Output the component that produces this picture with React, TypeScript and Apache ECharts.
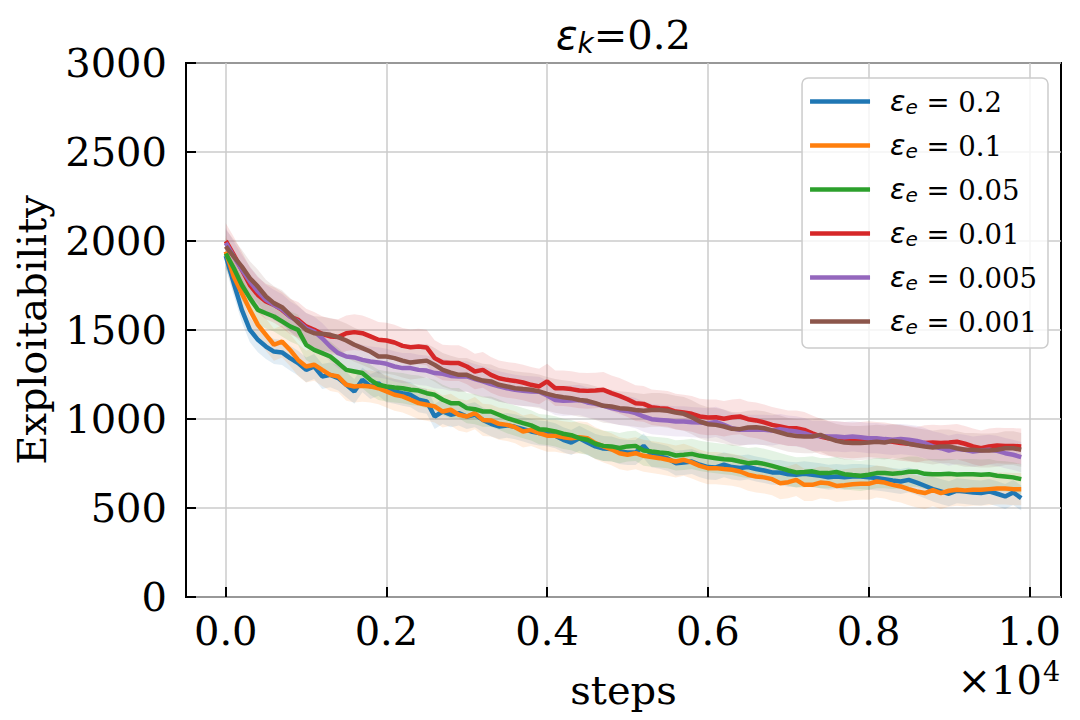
import React, { useEffect, useRef } from "react";
import * as echarts from "echarts";

const STEPS: number[] = Array.from({ length: 100 }, (_, i) => i * 100);

const EPS_LABELS = ["0.2", "0.1", "0.05", "0.01", "0.005", "0.001"];
const COLORS = ["#1f77b4", "#ff7f0e", "#2ca02c", "#d62728", "#9467bd", "#8c564b"];

const BLUE = [
  1916, 1762, 1613, 1501, 1445, 1407, 1379, 1374, 1342, 1314, 1276, 1295, 1239, 1248, 1230, 1192, 1155, 1220, 1183, 1201,
  1164, 1155, 1145, 1136, 1108, 1099, 1014, 1042, 1024, 1033, 1014, 1024, 995, 973, 958, 964, 956, 943, 930, 921,
  917, 906, 883, 868, 892, 868, 846, 834, 832, 817, 812, 812, 849, 799, 790, 778, 752, 756, 761, 743,
  730, 728, 743, 730, 725, 730, 719, 711, 700, 699, 690, 687, 692, 687, 681, 673, 677, 673, 677, 677,
  673, 668, 662, 655, 649, 658, 643, 625, 606, 593, 580, 597, 593, 587, 584, 593, 580, 565, 587, 556,
];
const ORANGE = [
  1940, 1800, 1707, 1613, 1529, 1473, 1417, 1435, 1388, 1332, 1295, 1305, 1276, 1248, 1239, 1192, 1183, 1187, 1183, 1173,
  1155, 1136, 1127, 1108, 1089, 1080, 1071, 1042, 1052, 1024, 1014, 1033, 995, 992, 973, 967, 954, 930, 939, 921,
  906, 906, 898, 892, 898, 892, 864, 846, 830, 808, 799, 808, 793, 786, 780, 771, 761, 771, 756, 737,
  724, 724, 719, 715, 705, 687, 677, 672, 662, 639, 645, 658, 630, 630, 643, 639, 624, 628, 634, 636,
  636, 649, 643, 630, 621, 606, 593, 584, 600, 584, 597, 602, 599, 602, 602, 606, 610, 610, 606, 606,
];
const GREEN = [
  1930, 1847, 1753, 1679, 1613, 1594, 1576, 1548, 1520, 1501, 1417, 1388, 1370, 1351, 1314, 1276, 1267, 1258, 1220, 1192,
  1183, 1177, 1173, 1164, 1160, 1145, 1136, 1108, 1089, 1089, 1061, 1055, 1042, 1042, 1024, 1005, 991, 977, 964, 943,
  939, 930, 917, 909, 892, 883, 861, 849, 846, 837, 846, 849, 823, 817, 812, 808, 795, 799, 804, 793,
  786, 780, 774, 771, 761, 752, 756, 748, 737, 724, 711, 700, 702, 706, 696, 696, 702, 690, 685, 681,
  687, 696, 696, 692, 696, 704, 704, 692, 690, 690, 692, 688, 690, 690, 687, 690, 681, 677, 672, 662,
];
const RED = [
  2000, 1922, 1838, 1753, 1697, 1660, 1641, 1613, 1576, 1557, 1520, 1501, 1477, 1464, 1460, 1482, 1488, 1482, 1464, 1445,
  1441, 1430, 1411, 1403, 1407, 1402, 1342, 1317, 1314, 1314, 1295, 1267, 1276, 1248, 1229, 1220, 1214, 1205, 1192, 1183,
  1211, 1173, 1173, 1168, 1160, 1158, 1160, 1164, 1145, 1130, 1111, 1089, 1085, 1066, 1061, 1057, 1042, 1036, 1029, 1014,
  1009, 1010, 1001, 1010, 1014, 999, 992, 981, 967, 958, 948, 948, 939, 920, 902, 892, 887, 883, 880, 883,
  887, 883, 880, 872, 865, 861, 855, 865, 868, 865, 868, 872, 861, 846, 836, 846, 851, 849, 849, 846,
];
const PURPLE = [
  1990, 1912, 1838, 1772, 1716, 1669, 1641, 1617, 1576, 1548, 1510, 1491, 1454, 1407, 1370, 1351, 1346, 1332, 1323, 1318,
  1310, 1295, 1286, 1286, 1276, 1272, 1258, 1254, 1242, 1239, 1239, 1224, 1211, 1196, 1183, 1173, 1164, 1158, 1155, 1153,
  1132, 1107, 1102, 1104, 1107, 1093, 1085, 1074, 1061, 1051, 1044, 1033, 1014, 999, 995, 991, 986, 986, 982, 980,
  976, 984, 967, 948, 939, 939, 939, 939, 936, 943, 935, 930, 920, 905, 905, 902, 902, 898, 902, 898,
  892, 892, 887, 883, 887, 883, 877, 865, 846, 836, 823, 832, 827, 817, 823, 827, 821, 808, 799, 786,
];
const BROWN = [
  1970, 1912, 1856, 1791, 1744, 1688, 1651, 1628, 1585, 1542, 1501, 1482, 1479, 1473, 1460, 1441, 1417, 1398, 1379, 1351,
  1351, 1342, 1328, 1317, 1323, 1328, 1304, 1276, 1261, 1248, 1248, 1229, 1216, 1211, 1192, 1183, 1173, 1168, 1164, 1155,
  1141, 1130, 1122, 1117, 1107, 1102, 1089, 1074, 1070, 1061, 1057, 1051, 1046, 1051, 1051, 1046, 1036, 1029, 1010, 986,
  971, 967, 958, 945, 943, 952, 954, 948, 936, 924, 911, 905, 902, 902, 911, 892, 877, 868, 865, 865,
  868, 872, 868, 877, 872, 861, 853, 846, 840, 846, 846, 836, 827, 827, 823, 823, 827, 836, 836, 827,
];
const MEANS = [BLUE, ORANGE, GREEN, RED, PURPLE, BROWN];
// half-width of the shaded band around each mean curve
const SPREAD = [70, 90, 85, 100, 85, 95];

const X_TICKS = [0, 2000, 4000, 6000, 8000, 10000];
const Y_MAX = 3000;
const Y_STEP = 500;

const SERIF = "'DejaVu Serif', serif";
const SANS = "'DejaVu Sans', sans-serif";

function rgba(hex: string, a: number) {
  const n = parseInt(hex.slice(1), 16);
  return `rgba(${(n >> 16) & 255},${(n >> 8) & 255},${n & 255},${a})`;
}

export default function App() {
  const ref = useRef<HTMLDivElement>(null);
  useEffect(() => {
    if (!ref.current) return;
    const chart = echarts.init(ref.current, null, { renderer: "svg" });

    const bandSeries = MEANS.map((m, i) => {
      const lo = m.map((v) => v - SPREAD[i]);
      const hi = m.map((v) => v + SPREAD[i]);
      return {
        name: `band-${i}`,
        type: "custom",
        silent: true,
        z: 1,
        data: STEPS.map((s, j) => [s, lo[j], hi[j]]),
        encode: { x: 0, y: [1, 2] },
        renderItem: (params: any, api: any) => {
          if (params.dataIndex !== 0) return null;
          const pts: number[][] = [];
          for (let j = 0; j < STEPS.length; j++) pts.push(api.coord([STEPS[j], lo[j]]));
          for (let j = STEPS.length - 1; j >= 0; j--) pts.push(api.coord([STEPS[j], hi[j]]));
          return {
            type: "polygon",
            shape: { points: pts },
            style: { fill: rgba(COLORS[i], 0.13), stroke: "none" },
          };
        },
      };
    });

    const lineSeries = MEANS.map((m, i) => ({
      name: EPS_LABELS[i],
      type: "line",
      data: STEPS.map((s, j) => [s, m[j]]),
      symbol: "none",
      showSymbol: false,
      color: COLORS[i],
      lineStyle: { color: COLORS[i], width: 4.5 },
      z: 5,
    }));

    chart.setOption({
      animation: false,
      backgroundColor: "#ffffff",
      title: {
        text: "{eps|ε}{sub|k}{txt|=0.2}",
        left: 556,
        top: 13,
        padding: 0,
        textStyle: {
          fontWeight: "normal",
          rich: {
            eps: { fontFamily: SANS, fontStyle: "italic", fontWeight: "normal", fontSize: 40, color: "#000", lineHeight: 44 },
            sub: { fontFamily: SANS, fontStyle: "italic", fontWeight: "normal", fontSize: 28, color: "#000", verticalAlign: "bottom", lineHeight: 20 },
            txt: { fontFamily: SERIF, fontWeight: "normal", fontSize: 40, color: "#000", lineHeight: 44 },
          },
        },
      },
      legend: {
        data: EPS_LABELS,
        orient: "vertical",
        right: 32,
        top: 78,
        icon: "rect",
        itemWidth: 60,
        itemHeight: 4.5,
        itemGap: 14,
        padding: [9, 11, 11, 8],
        backgroundColor: "rgba(255,255,255,0.8)",
        borderColor: "#cccccc",
        borderWidth: 1.5,
        borderRadius: 6,
        formatter: (name: string) => `{eps|ε}{sub|e}{txt| = ${name}}`,
        textStyle: {
          padding: [0, 0, 0, 15],
          rich: {
            eps: { fontFamily: SANS, fontStyle: "italic", fontSize: 28.5, color: "#000", lineHeight: 31 },
            sub: { fontFamily: SANS, fontStyle: "italic", fontSize: 20, color: "#000", verticalAlign: "bottom", lineHeight: 13 },
            txt: { fontFamily: SERIF, fontSize: 27.5, color: "#000", lineHeight: 31 },
          },
        },
      },
      grid: {
        left: 186,
        top: 63,
        right: 19,
        bottom: 123,
        show: true,
        borderColor: "#000",
        borderWidth: 2,
        backgroundColor: "transparent",
        containLabel: false,
      },
      xAxis: {
        type: "value",
        min: -495,
        max: 10395,
        name: "steps",
        nameLocation: "middle",
        nameGap: 71,
        nameTextStyle: { fontFamily: SERIF, fontSize: 40, color: "#000", lineHeight: 44 },
        axisLine: { show: false, onZero: false },
        axisTick: {
          show: true,
          inside: true,
          length: 10,
          customValues: X_TICKS,
          lineStyle: { color: "#000", width: 2 },
        },
        axisLabel: {
          customValues: X_TICKS,
          margin: 12,
          fontFamily: SERIF,
          fontSize: 40,
          color: "#000",
          lineHeight: 44,
          formatter: (v: number) => (v / 10000).toFixed(1),
        },
        splitLine: { show: true, lineStyle: { color: "#cbcbcb", width: 1.5 } },
      },
      yAxis: {
        type: "value",
        min: 0,
        max: Y_MAX,
        interval: Y_STEP,
        name: "Exploitability",
        nameLocation: "middle",
        nameGap: 125,
        nameRotate: 90,
        nameTextStyle: { fontFamily: SERIF, fontSize: 40, color: "#000", lineHeight: 44 },
        axisLine: { show: false, onZero: false },
        axisTick: { show: true, inside: true, length: 10, lineStyle: { color: "#000", width: 2 } },
        axisLabel: {
          margin: 19,
          fontFamily: SERIF,
          fontSize: 40,
          color: "#000",
          formatter: (v: number) => String(v),
        },
        splitLine: { show: true, lineStyle: { color: "#cbcbcb", width: 1.5 } },
      },
      graphic: [
        {
          type: "text",
          x: 1042,
          y: 680,
          style: {
            text: "×10",
            fontFamily: SERIF,
            fontSize: 40,
            fill: "#000",
            textAlign: "right",
            textVerticalAlign: "middle",
          },
        },
        {
          type: "text",
          x: 1043,
          y: 671,
          style: {
            text: "4",
            fontFamily: SERIF,
            fontSize: 27,
            fill: "#000",
            textAlign: "left",
            textVerticalAlign: "middle",
          },
        },
      ],
      series: [...bandSeries, ...lineSeries],
    });

    return () => chart.dispose();
  }, []);

  return (
    <div
      ref={ref}
      style={{ position: "fixed", left: 0, top: 0, width: 1080, height: 720, background: "#fff" }}
    />
  );
}
